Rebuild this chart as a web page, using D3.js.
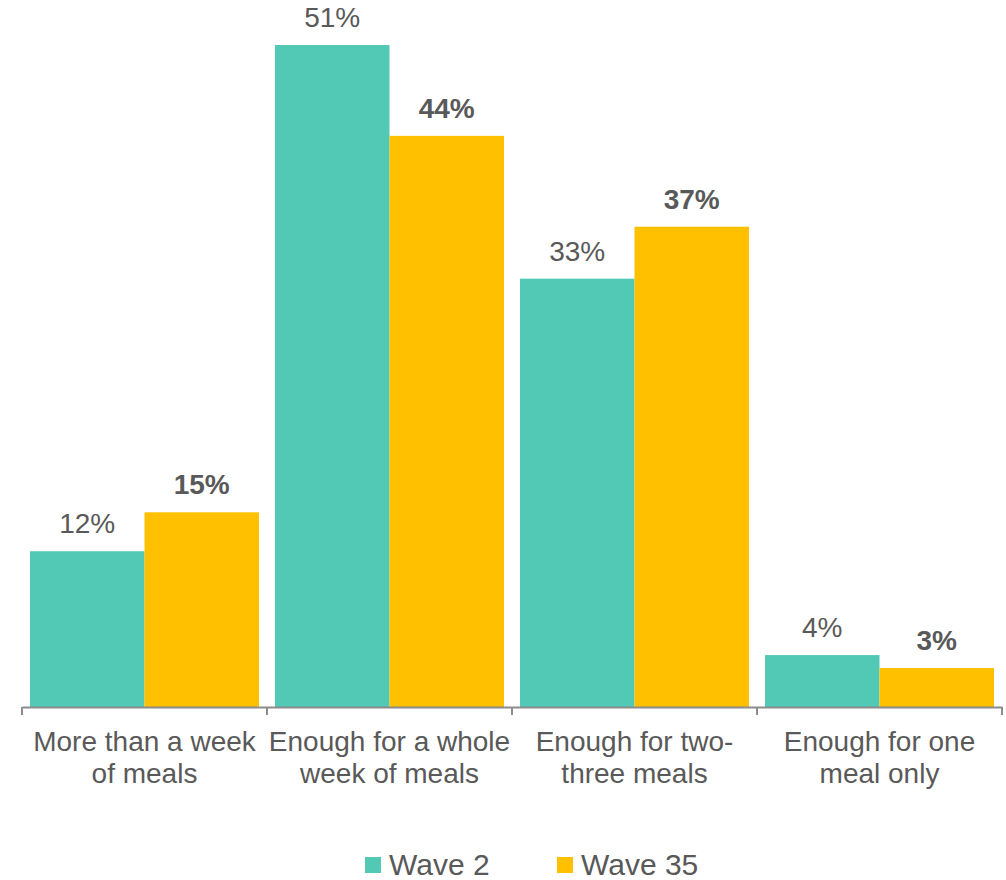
<!DOCTYPE html>
<html>
<head>
<meta charset="utf-8">
<script src="https://cdn.jsdelivr.net/npm/d3@7"></script>
<style>
  body { margin: 0; background: #fff; }
  svg text { font-family: "Liberation Sans", Arial, sans-serif; fill: #595959; }
</style>
</head>
<body>
<div id="chart"></div>
<script>
// chart data
const categories = [
    ["More than a week", "of meals"],
    ["Enough for a whole", "week of meals"],
    ["Enough for two-", "three meals"],
    ["Enough for one", "meal only"]
];
const seriesNames = ["Wave 2", "Wave 35"];
const wave2 = [12, 51, 33, 4];
const wave35 = [15, 44, 37, 3];

const width = 1006, height = 880;
const colors = ["#52C9B5", "#FFC000"];

let svg = d3.select("#chart")
    .append("svg")
    .attr("width", width)
    .attr("height", height);

let catIdx = categories.map((d, i) => i);

// x scale for the category bands
let xScale = d3.scaleBand()
    .domain(catIdx)
    .range([22, 1002])
    .paddingInner(0)
    .paddingOuter(0);

// inner scale for the two waves
let xInner = d3.scaleBand()
    .domain([0, 1])
    .range([0, xScale.bandwidth()])
    .paddingOuter(0.07)
    .paddingInner(0);

let yScale = d3.scaleLinear()
    .domain([0, 51])
    .range([707, 45]);

let data = [];
catIdx.forEach(i => {
    data.push({cat: i, s: 0, v: wave2[i]});
    data.push({cat: i, s: 1, v: wave35[i]});
});

// bars
svg.append("g")
    .selectAll("rect")
    .data(data)
    .enter()
    .append("rect")
    .attr("x", d => xScale(d.cat) + xInner(d.s))
    .attr("y", d => yScale(d.v))
    .attr("width", xInner.bandwidth())
    .attr("height", d => yScale(0) - yScale(d.v))
    .style("fill", d => colors[d.s]);

// value labels
svg.append("g")
    .selectAll("text")
    .data(data)
    .enter()
    .append("text")
    .attr("x", d => xScale(d.cat) + xInner(d.s) + xInner.bandwidth() / 2)
    .attr("y", d => yScale(d.v) - 18)
    .attr("text-anchor", "middle")
    .style("font-size", "28px")
    .style("font-weight", d => d.s == 1 ? "bold" : "normal")
    .text(d => d.v + "%");

// x axis
let xAxis = d3.axisBottom(xScale)
    .tickSize(0)
    .tickFormat("");

let axisG = svg.append("g")
    .attr("transform", `translate(0, ${yScale(0)})`)
    .call(xAxis);
axisG.select(".domain").attr("stroke", "#8c8c8c").attr("stroke-width", 2);

// tick marks at band edges
let edges = catIdx.map(i => xScale(i)).concat([xScale.range()[1]]);
axisG.selectAll(".edge")
    .data(edges)
    .enter()
    .append("line")
    .attr("class", "edge")
    .attr("x1", d => d)
    .attr("x2", d => d)
    .attr("y1", 0)
    .attr("y2", 8)
    .attr("stroke", "#8c8c8c")
    .attr("stroke-width", 2);

// category labels
let catLabels = svg.append("g")
    .selectAll("text")
    .data(categories)
    .enter()
    .append("text")
    .attr("text-anchor", "middle")
    .style("font-size", "28px")
    .attr("transform", (d, i) => `translate(${xScale(i) + xScale.bandwidth() / 2}, 751)`);

catLabels.selectAll("tspan")
    .data(d => d)
    .enter()
    .append("tspan")
    .attr("x", 0)
    .attr("y", (d, i) => i * 32)
    .text(d => d);

// legend
let legendX = [365, 557];
let legend = svg.append("g")
    .selectAll("g")
    .data(seriesNames)
    .enter()
    .append("g")
    .attr("transform", (d, i) => `translate(${legendX[i]}, 857)`);

legend.append("rect")
    .attr("width", 16)
    .attr("height", 16)
    .style("fill", (d, i) => colors[i]);

legend.append("text")
    .attr("x", 24)
    .attr("y", 18)
    .style("font-size", "30px")
    .text(d => d);
</script>
</body>
</html>
